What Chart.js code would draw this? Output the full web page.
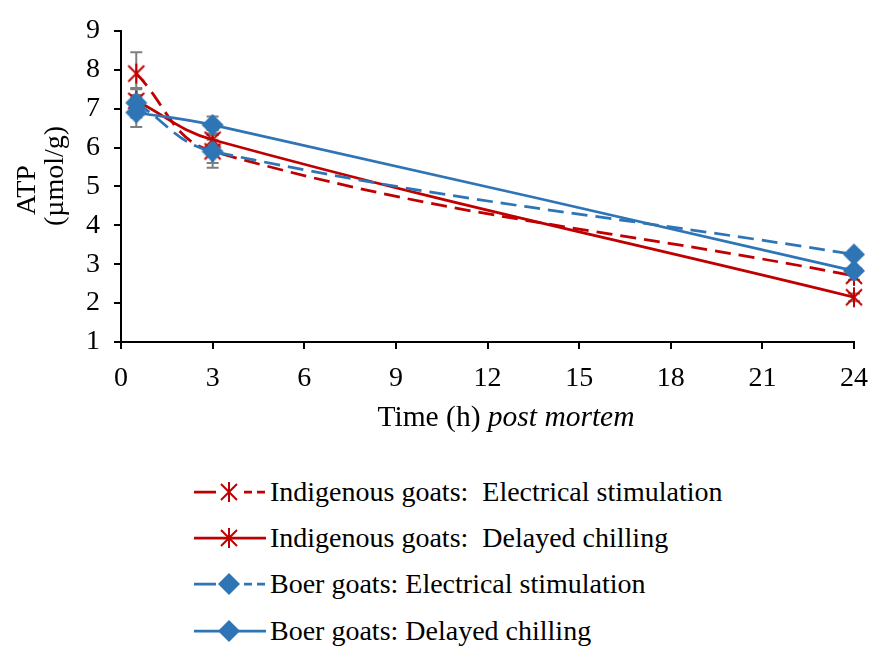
<!DOCTYPE html>
<html>
<head>
<meta charset="utf-8">
<script src="https://cdn.jsdelivr.net/npm/chart.js@4.4.0/dist/chart.umd.min.js"></script>
<style>
  html, body { margin: 0; padding: 0; background: #fff; }
  #wrap { position: relative; width: 881px; height: 647px; }
  #chart { position: absolute; left: 0; top: 0; }
  .legend-row {
    position: absolute; left: 192px; height: 36px;
    display: flex; align-items: center;
    font: 28px "Liberation Serif", "Times New Roman", serif;
    white-space: pre; color: #000;
  }
  .legend-row canvas { margin-right: 4px; }
</style>
</head>
<body>
<div id="wrap">
  <canvas id="chart" width="881" height="450"></canvas>
  <div id="legend"></div>
</div>
<script>
// sampling times (h post mortem)
const times = [0.5, 3, 24];

// ATP, µmol/g
const indigenousES = [7.9, 5.9, 2.7];
const indigenousDC = [7.2, 6.2, 2.15];
const boerES = [7.15, 5.9, 3.25];
const boerDC = [6.9, 6.58, 2.83];

// standard errors
const indigenousESErr = [0.55, 0.3, 0.1];
const indigenousDCErr = [0.3, 0.25, 0.1];
const boerESErr = [0.38, 0.42, 0.1];
const boerDCErr = [0.37, 0.22, 0.1];

const xTicks = [0, 3, 6, 9, 12, 15, 18, 21, 24];

const RED = '#c00000';
const BLUE = '#2e75b6';
const FONT = '"Liberation Serif", "Times New Roman", serif';
const FS = 28;

function drawMarker(ctx, style, x, y, color) {
  ctx.save();
  ctx.strokeStyle = color;
  ctx.fillStyle = color;
  ctx.lineWidth = 2;
  if (style === 'star') {
    ctx.beginPath();
    ctx.moveTo(x - 8, y - 8); ctx.lineTo(x + 8, y + 8);
    ctx.moveTo(x + 8, y - 8); ctx.lineTo(x - 8, y + 8);
    ctx.moveTo(x, y - 10); ctx.lineTo(x, y + 10);
    ctx.stroke();
  } else {
    ctx.beginPath();
    ctx.moveTo(x, y - 11); ctx.lineTo(x + 11, y);
    ctx.lineTo(x, y + 11); ctx.lineTo(x - 11, y);
    ctx.closePath();
    ctx.fill();
  }
  ctx.restore();
}

function makeMarker(style, color) {
  const c = document.createElement('canvas');
  c.width = 26; c.height = 26;
  drawMarker(c.getContext('2d'), style, 13, 13, color);
  return c;
}

function series(label, values, errors, color, marker, dashed, order) {
  return {
    label,
    data: times.map((t, i) => ({ x: t, y: values[i] })),
    errors,
    marker,
    borderColor: color,
    backgroundColor: color,
    borderWidth: 2.75,
    borderDash: dashed ? [16, 8] : [],
    tension: 0.4,
    pointStyle: makeMarker(marker, color),
    pointRadius: 10,
    clip: false,
    order
  };
}

const datasets = [
  series('Indigenous goats:  Electrical stimulation', indigenousES, indigenousESErr, RED, 'star', true, 3),
  series('Indigenous goats:  Delayed chilling', indigenousDC, indigenousDCErr, RED, 'star', false, 2),
  series('Boer goats: Electrical stimulation', boerES, boerESErr, BLUE, 'diamond', true, 1),
  series('Boer goats: Delayed chilling', boerDC, boerDCErr, BLUE, 'diamond', false, 0)
];

// grey error bars under the lines
const errorBars = {
  id: 'errorBars',
  beforeDatasetsDraw(chart) {
    const { ctx, scales: { x, y } } = chart;
    ctx.save();
    ctx.strokeStyle = '#7f7f7f';
    ctx.lineWidth = 2;
    chart.data.datasets.forEach(ds => {
      ds.data.forEach((p, i) => {
        const e = ds.errors[i];
        const px = x.getPixelForValue(p.x);
        const top = y.getPixelForValue(p.y + e);
        const bot = y.getPixelForValue(p.y - e);
        ctx.beginPath();
        ctx.moveTo(px, top); ctx.lineTo(px, bot);
        ctx.moveTo(px - 6, top); ctx.lineTo(px + 6, top);
        ctx.moveTo(px - 6, bot); ctx.lineTo(px + 6, bot);
        ctx.stroke();
      });
    });
    ctx.restore();
  }
};

// axis titles (mixed roman / italic, two-line rotated)
const axisTitles = {
  id: 'axisTitles',
  afterDraw(chart) {
    const { ctx } = chart;
    ctx.save();
    ctx.fillStyle = '#000';
    ctx.textBaseline = 'middle';
    const a = 'Time (h) ', b = 'post mortem';
    const tf = 29.5;
    ctx.font = tf + 'px ' + FONT;
    const wa = ctx.measureText(a).width;
    ctx.font = 'italic ' + tf + 'px ' + FONT;
    const wb = ctx.measureText(b).width;
    const x0 = 506 - (wa + wb) / 2;
    ctx.textAlign = 'left';
    ctx.font = tf + 'px ' + FONT;
    ctx.fillText(a, x0, 418);
    ctx.font = 'italic ' + tf + 'px ' + FONT;
    ctx.fillText(b, x0 + wa, 418);

    ctx.font = FS + 'px ' + FONT;
    ctx.textAlign = 'center';
    ctx.save();
    ctx.translate(28, 190);
    ctx.rotate(-Math.PI / 2);
    ctx.fillText('ATP', 0, 0);
    ctx.restore();
    ctx.translate(56, 176);
    ctx.rotate(-Math.PI / 2);
    ctx.fillText('(µmol/g)', 0, 0);
    ctx.restore();
  }
};

const axisStyle = {
  border: { display: true, color: '#000', width: 2 },
  grid: { display: true, drawOnChartArea: false, drawTicks: true, tickLength: 7, color: '#000', lineWidth: 2 },
  ticks: { color: '#000', font: { family: FONT, size: FS } }
};

new Chart(document.getElementById('chart'), {
  type: 'line',
  data: { datasets },
  options: {
    responsive: false,
    animation: false,
    layout: { padding: { top: 24, right: 23, left: 0, bottom: 0 } },
    plugins: { legend: { display: false }, tooltip: { enabled: false } },
    scales: {
      x: {
        type: 'linear', min: 0, max: 24,
        ...axisStyle,
        ticks: { ...axisStyle.ticks, padding: 13, autoSkip: false, maxRotation: 0 },
        afterBuildTicks: s => { s.ticks = xTicks.map(v => ({ value: v })); },
        afterFit: s => { s.height = 450 - 342; }
      },
      y: {
        min: 1, max: 9,
        ...axisStyle,
        ticks: { ...axisStyle.ticks, stepSize: 1, padding: 14 },
        afterFit: s => { s.width = 121; }
      }
    }
  },
  plugins: [errorBars, axisTitles]
});

// legend: line sample with marker, then label
const legendEl = document.getElementById('legend');
const rowY = [492, 538, 584, 631];
datasets.forEach((ds, i) => {
  const row = document.createElement('div');
  row.className = 'legend-row';
  row.style.top = (rowY[i] - 18) + 'px';
  const c = document.createElement('canvas');
  c.width = 74; c.height = 30;
  const g = c.getContext('2d');
  g.strokeStyle = ds.borderColor;
  g.lineWidth = 2.75;
  g.setLineDash(ds.borderDash.length ? [22, 0, 0, 28, 8, 5, 8, 100] : []);
  g.beginPath();
  g.moveTo(2, 15); g.lineTo(74, 15);
  g.stroke();
  g.setLineDash([]);
  drawMarker(g, ds.marker, 37, 15, ds.borderColor);
  row.appendChild(c);
  const span = document.createElement('span');
  span.textContent = ds.label;
  row.appendChild(span);
  legendEl.appendChild(row);
});
</script>
</body>
</html>
